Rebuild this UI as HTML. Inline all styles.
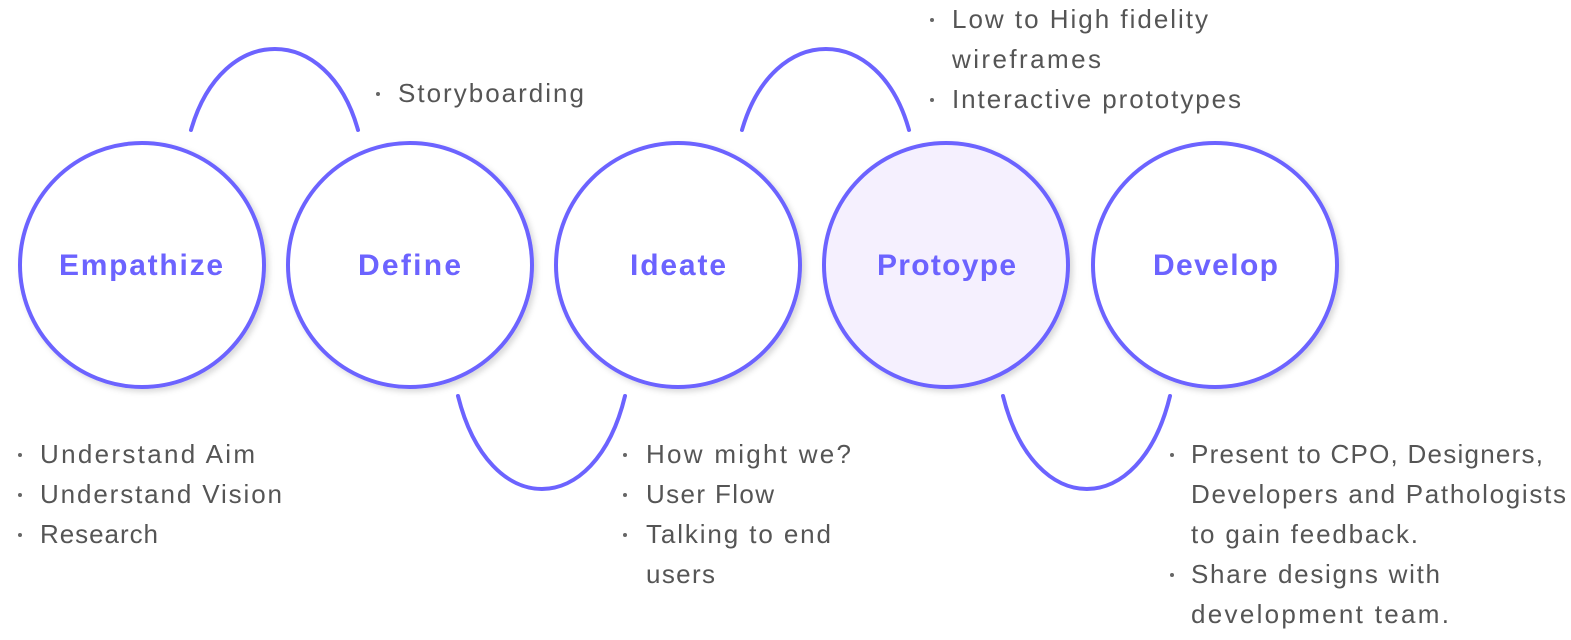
<!DOCTYPE html>
<html><head><meta charset="utf-8"><style>
html,body{margin:0;padding:0;background:#fff;width:1571px;height:640px;overflow:hidden}
svg{display:block}
.t{font-family:"Liberation Sans",sans-serif;font-size:26px;fill:#555}
.h{font-family:"Liberation Sans",sans-serif;font-size:30px;font-weight:bold;fill:#6c63ff}
.b{fill:#666}
</style></head><body>
<svg width="1571" height="640" viewBox="0 0 1571 640">
<defs><filter id="s" x="-20%" y="-20%" width="140%" height="140%"><feDropShadow dx="3" dy="3" stdDeviation="3" flood-color="#000" flood-opacity="0.15"/></filter></defs>
<g fill="none" stroke="#6c63ff" stroke-width="4" stroke-linecap="round">
<path d="M191,130 C222,22 328,22 358,130"/>
<path d="M742,130 C773,22 879,22 909,130"/>
<path d="M458,396 C489,520 595,520 625,396"/>
<path d="M1003,396 C1034,520 1140,520 1170,396"/>
</g>
<g stroke="#6c63ff" stroke-width="4" filter="url(#s)">
<circle cx="142" cy="265" r="122" fill="#fff"/>
<circle cx="410" cy="265" r="122" fill="#fff"/>
<circle cx="678" cy="265" r="122" fill="#fff"/>
<circle cx="946" cy="265" r="122" fill="#f5f0fe"/>
<circle cx="1215" cy="265" r="122" fill="#fff"/>
</g>
<text class="h" x="59" y="275" textLength="164">Empathize</text>
<text class="h" x="358" y="275" textLength="103">Define</text>
<text class="h" x="630" y="275" textLength="96">Ideate</text>
<text class="h" x="877" y="275" textLength="139">Protoype</text>
<text class="h" x="1153" y="275" textLength="125">Develop</text>
<g class="b">
<circle cx="378" cy="94" r="2"/>
<circle cx="932" cy="20" r="2"/><circle cx="932" cy="100" r="2"/>
<circle cx="20" cy="455" r="2"/><circle cx="20" cy="495" r="2"/><circle cx="20" cy="535" r="2"/>
<circle cx="625" cy="455" r="2"/><circle cx="625" cy="495" r="2"/><circle cx="625" cy="535" r="2"/>
<circle cx="1172" cy="455" r="2"/><circle cx="1172" cy="575" r="2"/>
</g>
<text class="t" x="398" y="102" textLength="186">Storyboarding</text>
<text class="t" x="952" y="28" textLength="256">Low to High fidelity</text>
<text class="t" x="952" y="68" textLength="149">wireframes</text>
<text class="t" x="952" y="108" textLength="289">Interactive prototypes</text>
<text class="t" x="40" y="463" textLength="215">Understand Aim</text>
<text class="t" x="40" y="503" textLength="242">Understand Vision</text>
<text class="t" x="40" y="543" textLength="118">Research</text>
<text class="t" x="646" y="463" textLength="205">How might we?</text>
<text class="t" x="646" y="503" textLength="128">User Flow</text>
<text class="t" x="646" y="543" textLength="185">Talking to end</text>
<text class="t" x="646" y="583" textLength="69">users</text>
<text class="t" x="1191" y="463" textLength="352">Present to CPO, Designers,</text>
<text class="t" x="1191" y="503" textLength="375">Developers and Pathologists</text>
<text class="t" x="1191" y="543" textLength="227">to gain feedback.</text>
<text class="t" x="1191" y="583" textLength="249">Share designs with</text>
<text class="t" x="1191" y="623" textLength="258">development team.</text>
</svg>
</body></html>
